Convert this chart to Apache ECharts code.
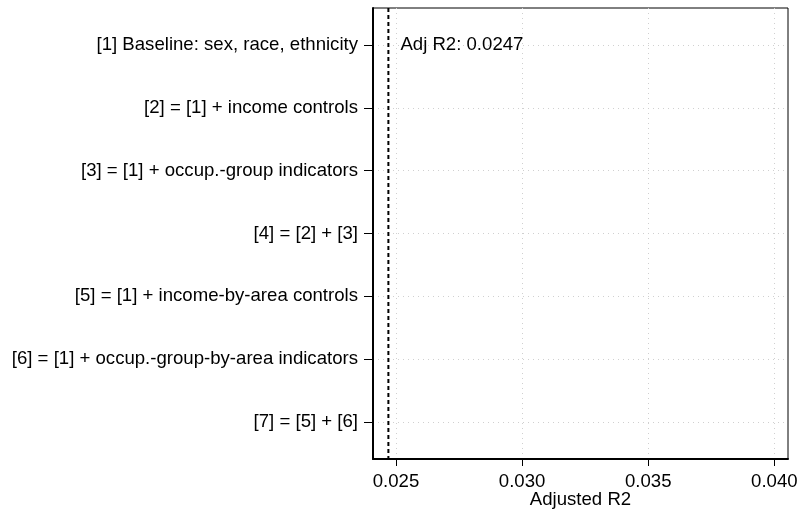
<!DOCTYPE html>
<html>
<head>
<meta charset="utf-8">
<script src="https://cdn.jsdelivr.net/npm/echarts@6/dist/echarts.min.js"></script>
<style>
  html, body { margin: 0; padding: 0; background: #fff; }
  #chart { width: 800px; height: 510px; }
</style>
</head>
<body>
<div id="chart"></div>
<script>
// model specifications, top to bottom
var models = [
  '[1] Baseline: sex, race, ethnicity',
  '[2] = [1] + income controls',
  '[3] = [1] + occup.-group indicators',
  '[4] = [2] + [3]',
  '[5] = [1] + income-by-area controls',
  '[6] = [1] + occup.-group-by-area indicators',
  '[7] = [5] + [6]'
];
var modelPos = [1, 2, 3, 4, 5, 6, 7];
var xTicks = [0.025, 0.030, 0.035, 0.040];
var baselineR2 = 0.0247;
var yRange = [0.41, 7.59];

var chart = echarts.init(document.getElementById('chart'));
var font = 'Liberation Sans, Arial, sans-serif';
var fs = 18.6;

var option = {
    animation: false,
    backgroundColor: '#fff',
    grid: {
        left: 373, top: 8, right: 12, bottom: 51,
        outerBoundsMode: 'none',
        show: true, borderColor: '#000', borderWidth: 1
    },
    xAxis: {
        type: 'value',
        min: 0.02409, max: 0.04054,
        name: 'Adjusted R2',
        nameLocation: 'middle',
        nameGap: 31,
        nameMoveOverlap: false,
        nameTextStyle: { color: '#000', fontSize: fs, fontFamily: font },
        axisLine: { show: true, onZero: false, lineStyle: { color: '#000', width: 2 } },
        axisTick: { show: true, length: 7, lineStyle: { color: '#000' }, customValues: xTicks },
        axisLabel: {
            color: '#000', fontSize: fs, fontFamily: font, margin: 13,
            customValues: xTicks,
            formatter: function (v) { return v.toFixed(3); }
        },
        splitLine: { show: true, lineStyle: { color: '#d0d0d0', type: [1, 4] } }
    },
    yAxis: {
        type: 'value',
        inverse: true,
        min: yRange[0], max: yRange[1],
        axisLine: { show: true, onZero: false, lineStyle: { color: '#000', width: 2 } },
        axisTick: { show: true, length: 9, lineStyle: { color: '#000' }, customValues: modelPos },
        axisLabel: {
            color: '#000', fontSize: fs, fontFamily: font, margin: 15,
            customValues: modelPos,
            formatter: function (v) { return models[Math.round(v) - 1] || ''; }
        },
        splitLine: { show: true, lineStyle: { color: '#d0d0d0', type: [1, 4] } }
    },
    series: [{
        // dashed reference line at the baseline adjusted R2
        type: 'line',
        symbol: 'none',
        silent: true,
        data: [[baselineR2, yRange[0]], [baselineR2, yRange[1]]],
        lineStyle: { color: '#000', width: 2, type: [4, 3] },
        z: 5
    }, {
        type: 'scatter',
        symbolSize: 0,
        silent: true,
        itemStyle: { opacity: 1 },
        data: [[baselineR2, 1]],
        label: {
            show: true,
            position: 'right',
            distance: 12,
            formatter: 'Adj R2: ' + baselineR2,
            color: '#000', fontSize: fs, fontFamily: font
        }
    }]
};

chart.setOption(option);
</script>
</body>
</html>
